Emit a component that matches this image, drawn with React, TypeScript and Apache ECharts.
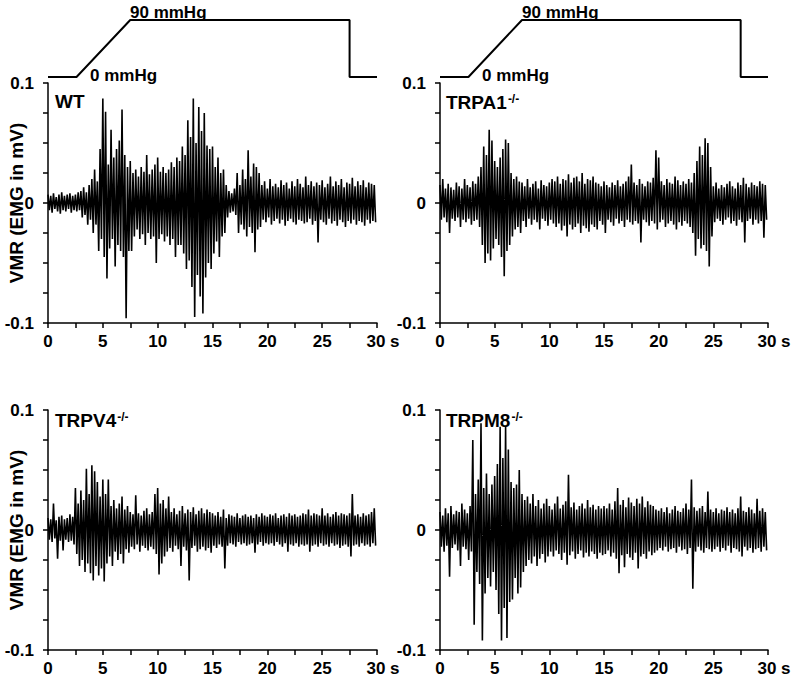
import { useEffect, useRef } from "react";
import * as echarts from "echarts";

const FONT = "'Liberation Sans', Arial, Helvetica, sans-serif";

// Time between successive read-off peaks (s); each peak is followed by a trough half a step later.
const sampleStep = 0.25;

// EMG envelope, in µV (0.001 mV), one value per 0.25 s.
const wtPeaks = [
  7, 6, 8, 5, 7, 9, 6, 7, 8, 6, 7, 9, 10, 13, 9, 15, 20, 28, 18, 45,
  87, 76, 32, 61, 38, 45, 52, 78, 40, 30, 35, 25, 28, 22, 30, 26, 40, 24, 28, 32,
  38, 26, 30, 25, 28, 34, 30, 38, 35, 47, 40, 69, 55, 87, 50, 80, 60, 75, 48, 45,
  47, 30, 38, 25, 28, 15, 10, 8, 12, 25, 15, 28, 20, 44, 22, 33, 30, 25, 15, 18,
  12, 20, 14, 16, 13, 19, 15, 17, 12, 18, 14, 20, 16, 13, 22, 15, 18, 14, 17, 15,
  19, 13, 16, 22, 14, 18, 15, 20, 13, 17, 16, 21, 14, 18, 15, 19, 13, 17, 16, 15,
];
const wtTroughs = [
  -6, -8, -5, -7, -9, -6, -7, -5, -8, -6, -7, -6, -12, -10, -18, -14, -25, -18, -40, -30,
  -45, -63, -38, -30, -53, -35, -40, -45, -96, -40, -40, -28, -22, -30, -26, -35, -25, -30, -28, -50,
  -30, -26, -32, -28, -35, -30, -45, -35, -35, -42, -55, -48, -70, -95, -60, -78, -92, -62, -50, -55,
  -42, -32, -45, -28, -25, -12, -8, -7, -10, -25, -18, -22, -28, -20, -25, -41, -22, -20, -14, -16,
  -12, -18, -15, -13, -17, -14, -19, -15, -13, -16, -18, -14, -15, -17, -16, -13, -18, -15, -33, -14,
  -16, -18, -13, -17, -15, -19, -14, -16, -20, -15, -17, -14, -18, -15, -16, -19, -14, -17, -15, -16,
];

const trpa1Peaks = [
  15, 20, 12, 16, 13, 11, 17, 14, 12, 20, 15, 13, 18, 16, 22, 30, 47, 40, 61, 52,
  35, 30, 38, 45, 53, 50, 25, 20, 22, 18, 17, 14, 20, 13, 16, 18, 12, 19, 15, 14,
  17, 20, 18, 22, 16, 20, 19, 24, 17, 21, 22, 18, 25, 16, 20, 19, 22, 17, 16, 14,
  18, 15, 13, 17, 15, 19, 14, 16, 18, 22, 32, 17, 15, 20, 16, 14, 18, 17, 21, 44,
  38, 18, 15, 20, 17, 16, 22, 19, 15, 18, 16, 20, 17, 25, 35, 47, 40, 54, 50, 30,
  14, 17, 12, 15, 13, 16, 18, 14, 12, 17, 15, 21, 16, 13, 17, 15, 14, 18, 16, 15,
];
const trpa1Troughs = [
  -14, -12, -16, -25, -13, -15, -12, -20, -14, -16, -13, -18, -15, -14, -20, -35, -50, -42, -48, -38,
  -30, -35, -45, -61, -40, -35, -28, -22, -20, -25, -15, -20, -13, -18, -14, -16, -22, -13, -15, -19,
  -14, -17, -20, -17, -23, -19, -28, -18, -22, -20, -17, -25, -19, -21, -24, -18, -20, -22, -15, -18,
  -25, -14, -16, -19, -13, -17, -15, -20, -14, -16, -18, -15, -17, -33, -14, -16, -19, -15, -17, -22,
  -16, -14, -20, -17, -15, -18, -22, -16, -19, -15, -17, -20, -25, -44, -30, -38, -35, -40, -53, -28,
  -16, -13, -15, -18, -14, -12, -17, -15, -19, -14, -16, -33, -15, -13, -18, -14, -17, -15, -29, -14,
];

const trpv4Peaks = [
  10, 9, 22, 8, 11, 12, 9, 10, 13, 11, 35, 22, 33, 25, 51, 30, 54, 49, 40, 28,
  42, 30, 42, 20, 25, 18, 22, 28, 17, 20, 15, 13, 29, 14, 12, 16, 18, 13, 15, 30,
  35, 22, 25, 18, 28, 15, 18, 13, 16, 20, 14, 17, 15, 19, 13, 16, 18, 14, 17, 15,
  14, 12, 15, 11, 17, 10, 13, 12, 11, 14, 10, 12, 13, 11, 12, 10, 13, 11, 14, 12,
  11, 13, 12, 14, 10, 12, 13, 11, 14, 12, 13, 11, 12, 14, 13, 17, 12, 14, 13, 12,
  18, 12, 14, 11, 13, 15, 12, 14, 13, 12, 14, 30, 12, 13, 11, 14, 12, 13, 15, 18,
];
const trpv4Troughs = [
  -8, -10, -7, -24, -9, -17, -8, -10, -9, -12, -20, -30, -25, -35, -28, -36, -42, -30, -38, -32,
  -43, -28, -22, -30, -18, -25, -20, -28, -16, -19, -14, -16, -12, -18, -13, -15, -17, -14, -16, -20,
  -37, -28, -22, -18, -15, -18, -13, -16, -30, -14, -17, -42, -15, -13, -18, -16, -14, -17, -15, -19,
  -13, -15, -12, -14, -32, -13, -11, -12, -14, -10, -12, -11, -13, -12, -11, -19, -12, -10, -13, -11,
  -12, -11, -13, -10, -12, -14, -11, -18, -12, -13, -11, -14, -12, -13, -12, -18, -13, -12, -14, -11,
  -13, -12, -14, -11, -13, -12, -15, -13, -12, -14, -22, -13, -12, -14, -11, -13, -12, -14, -11, -13,
];

const trpm8Peaks = [
  15, 12, 18, 14, 20, 13, 16, 15, 22, 17, 14, 20, 75, 30, 42, 89, 35, 47, 30, 38,
  45, 55, 86, 60, 86, 67, 40, 35, 38, 50, 30, 25, 28, 22, 30, 20, 25, 18, 22, 26,
  20, 17, 22, 28, 18, 21, 24, 46, 19, 23, 17, 20, 22, 18, 25, 19, 21, 17, 20, 18,
  20, 18, 22, 17, 24, 35, 21, 25, 19, 27, 23, 20, 26, 22, 28, 19, 24, 21, 20, 17,
  16, 18, 15, 19, 14, 17, 20, 16, 15, 18, 22, 17, 42, 19, 16, 18, 20, 15, 32, 17,
  15, 18, 14, 17, 16, 19, 15, 17, 14, 18, 28, 16, 15, 19, 17, 14, 26, 16, 18, 15,
];
const trpm8Troughs = [
  -14, -18, -13, -39, -15, -12, -17, -30, -14, -16, -25, -18, -79, -35, -45, -92, -53, -40, -47, -35,
  -50, -70, -92, -65, -90, -60, -58, -40, -53, -48, -35, -30, -25, -28, -22, -30, -24, -20, -27, -22,
  -18, -22, -17, -20, -25, -19, -29, -21, -18, -24, -20, -17, -23, -19, -22, -18, -20, -24, -19, -21,
  -20, -17, -22, -19, -24, -36, -21, -31, -20, -23, -25, -19, -32, -22, -20, -24, -18, -21, -19, -17,
  -15, -17, -14, -18, -16, -15, -19, -14, -17, -16, -20, -15, -49, -18, -14, -17, -19, -15, -16, -18,
  -16, -14, -18, -15, -17, -13, -19, -15, -16, -18, -22, -14, -17, -15, -19, -16, -15, -18, -14, -17,
];

const panelNames = ["WT", "TRPA1", "TRPV4", "TRPM8"];
const panelSuperscripts = ["", "-/-", "-/-", "-/-"];

const xTickValues = [0, 5, 10, 15, 20, 25, 30];
const xTickLabels = ["0", "5", "10", "15", "20", "25", "30 s"];
const yTickValues = [-0.1, 0, 0.1];
const yTickLabels = ["-0.1", "0", "0.1"];
const yAxisTitle = "VMR (EMG in mV)";

// Distension protocol (s, mmHg)
const protocolTime = [0, 2.6, 7.5, 27.5, 27.5, 30];
const protocolPressure = [0, 0, 90, 90, 0, 0];
const protocolLabels = ["90 mmHg", "0 mmHg"];

function buildTrace(peaks: number[], troughs: number[]) {
  const pts: [number, number][] = [];
  for (let i = 0; i < peaks.length; i++) {
    pts.push([i * sampleStep, peaks[i] / 1000]);
    pts.push([i * sampleStep + sampleStep / 2, troughs[i] / 1000]);
  }
  return pts;
}

const traces = [
  buildTrace(wtPeaks, wtTroughs),
  buildTrace(trpa1Peaks, trpa1Troughs),
  buildTrace(trpv4Peaks, trpv4Troughs),
  buildTrace(trpm8Peaks, trpm8Troughs),
];

const panelGrids = [
  { left: 48, top: 83, width: 329, height: 240 },
  { left: 440, top: 83, width: 328, height: 240 },
  { left: 48, top: 410, width: 329, height: 240 },
  { left: 440, top: 410, width: 328, height: 240 },
];
const protocolGrids = [
  { left: 48, top: 20, width: 329, height: 57 },
  { left: 440, top: 20, width: 328, height: 57 },
];
const panelNamePos = [
  [55, 101],
  [446, 102],
  [55, 420],
  [446, 420],
];

export default function App() {
  const ref = useRef<HTMLDivElement>(null);

  useEffect(() => {
    if (!ref.current) return;
    const chart = echarts.init(ref.current, undefined, { renderer: "svg" });

    const xFmt = (v: number) => {
      const k = xTickValues.findIndex((t) => Math.abs(t - v) < 1e-6);
      if (k < 0) return "";
      const s = xTickLabels[k];
      return s.indexOf(" ") >= 0 ? "{pad| }" + s : s;
    };
    const yFmt = (v: number) => {
      const k = yTickValues.findIndex((t) => Math.abs(t - v) < 1e-6);
      return k < 0 ? "" : yTickLabels[k];
    };

    const axisLine = { show: true, onZero: false, lineStyle: { color: "#000", width: 1.5 } };
    const axisTick = { show: true, length: 5, lineStyle: { color: "#000", width: 1.5 } };
    const labelStyle = {
      color: "#000",
      fontSize: 17,
      fontWeight: "bold" as const,
      fontFamily: FONT,
    };

    const xAxes: any[] = panelGrids.map((_, i) => ({
      type: "value",
      gridIndex: i,
      min: 0,
      max: 30,
      interval: 2.5,
      axisLine,
      axisTick,
      splitLine: { show: false },
      axisLabel: {
        ...labelStyle,
        margin: 10,
        formatter: xFmt,
        showMinLabel: true,
        showMaxLabel: true,
        rich: { pad: { width: 12 } },
      },
    }));
    const yAxes: any[] = panelGrids.map((_, i) => ({
      type: "value",
      gridIndex: i,
      min: -0.1,
      max: 0.1,
      interval: 0.025,
      axisLine,
      axisTick,
      splitLine: { show: false },
      axisLabel: { ...labelStyle, margin: 14, formatter: yFmt, showMinLabel: true, showMaxLabel: true },
      name: i % 2 === 0 ? yAxisTitle : "",
      nameLocation: "middle",
      nameGap: 22,
      nameRotate: 90,
      nameMoveOverlap: false,
      nameTextStyle: { color: "#000", fontSize: 19, fontWeight: "bold", fontFamily: FONT },
    }));
    protocolGrids.forEach((_, j) => {
      xAxes.push({ type: "value", gridIndex: 4 + j, min: 0, max: 30, show: false });
      yAxes.push({ type: "value", gridIndex: 4 + j, min: 0, max: 90, show: false });
    });

    const series: any[] = traces.map((data, i) => ({
      type: "line",
      xAxisIndex: i,
      yAxisIndex: i,
      data,
      showSymbol: false,
      symbol: "none",
      silent: true,
      clip: false,
      lineStyle: { color: "#000", width: 1.6 },
    }));
    protocolGrids.forEach((_, j) => {
      series.push({
        type: "line",
        xAxisIndex: 4 + j,
        yAxisIndex: 4 + j,
        data: protocolTime.map((t, k) => [t, protocolPressure[k]]),
        showSymbol: false,
        symbol: "none",
        silent: true,
        clip: false,
        lineStyle: { color: "#000", width: 2 },
      });
    });

    const graphics: any[] = [];
    protocolGrids.forEach((g) => {
      const dx = g.left - 48;
      graphics.push({
        type: "text",
        x: 130 + dx,
        y: 12,
        style: { text: protocolLabels[0], fill: "#000", font: `bold 17px ${FONT}`, verticalAlign: "middle" },
      });
      graphics.push({
        type: "text",
        x: 90 + dx,
        y: 75,
        style: { text: protocolLabels[1], fill: "#000", font: `bold 17px ${FONT}`, verticalAlign: "middle" },
      });
    });
    panelNames.forEach((name, i) => {
      const sup = panelSuperscripts[i];
      graphics.push({
        type: "text",
        x: panelNamePos[i][0],
        y: panelNamePos[i][1],
        style: {
          text: sup ? `${name}{sup|${sup}}` : name,
          fill: "#000",
          font: `bold 19px ${FONT}`,
          verticalAlign: "middle",
          rich: {
            sup: { fontSize: 12, fontWeight: "bold", fontFamily: FONT, fill: "#000", verticalAlign: "top", lineHeight: 12, padding: [0, 0, 0, 1] },
          },
        },
      });
    });

    chart.setOption({
      animation: false,
      backgroundColor: "#fff",
      grid: [...panelGrids, ...protocolGrids].map((g) => ({
        ...g,
        containLabel: false,
        outerBoundsMode: "none",
      })),
      xAxis: xAxes,
      yAxis: yAxes,
      series,
      graphic: graphics,
    });

    return () => chart.dispose();
  }, []);

  return (
    <div
      ref={ref}
      style={{ position: "absolute", left: 0, top: 0, width: 792, height: 682, background: "#fff" }}
    />
  );
}
